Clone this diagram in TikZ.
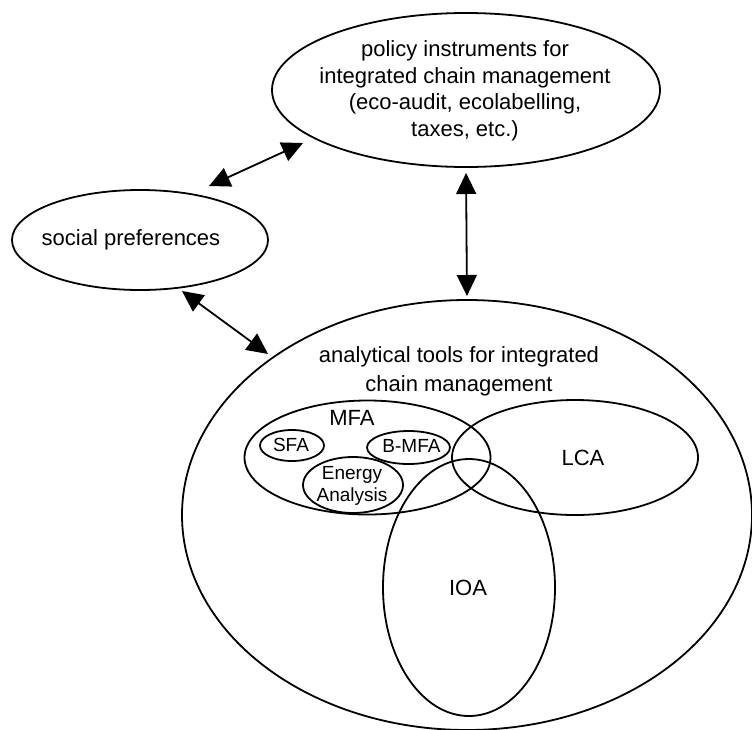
\documentclass[tikz,border=0pt]{standalone}
\usepackage{fontspec}
\setmainfont{Liberation Sans}
\usetikzlibrary{shapes.geometric,arrows.meta}
\begin{document}
\begin{tikzpicture}[x=1pt,y=-1pt,
  ell/.style={draw, ellipse, line width=1.8pt, inner sep=0pt, outer sep=0pt},
  lbl/.style={inner sep=0pt, font=\fontsize{22}{26.5}\selectfont, align=center},
  lbltwo/.style={inner sep=0pt, font=\fontsize{22}{29}\selectfont, align=center},
  small/.style={inner sep=0pt, font=\fontsize{19}{22}\selectfont, align=center},
  biarrow/.style={{Triangle[length=21pt,width=20pt]}-{Triangle[length=21pt,width=20pt]}, line width=1.8pt}
]
\useasboundingbox (0,0) rectangle (752,729);
\begin{scope}
\clip (0,0) rectangle (752,729);
\node[ell, minimum width=570pt, minimum height=430pt] (big) at (467,515) {};
\end{scope}
% top ellipse
\node[ell, minimum width=388pt, minimum height=154pt] (top) at (466,90) {};
\node[lbl] (toptext) at (465,91) {policy instruments for\\integrated chain management\\(eco-audit, ecolabelling,\\taxes, etc.)};
% social preferences
\node[ell, minimum width=256pt, minimum height=100pt] (soc) at (140,240) {};
\node[lbl, anchor=base] (soctext) at (131,245) {social preferences};
% analytical tools text
\node[lbltwo] (bigtext) at (459,371) {analytical tools for integrated\\chain management};
% MFA
\node[ell, minimum width=246pt, minimum height=114pt] (mfa) at (367.5,457.5) {};
\node[lbl, anchor=base] (mfatext) at (352,425) {MFA};
\node[ell, minimum width=64pt, minimum height=31pt] (sfa) at (292,445.5) {};
\node[small, anchor=base] (sfatext) at (291,451) {SFA};
\node[ell, minimum width=83pt, minimum height=33pt] (bmfa) at (408.5,447.5) {};
\node[small, anchor=base] (bmfatext) at (411.5,452.7) {B-MFA};
\node[ell, minimum width=100pt, minimum height=56pt] (ea) at (353,485) {};
\node[small] (eatext) at (352,486) {Energy\\Analysis};
% LCA
\node[ell, minimum width=246pt, minimum height=115pt] (lca) at (575,457.5) {};
\node[lbl, anchor=base] (lcatext) at (583,465) {LCA};
% IOA
\node[ell, minimum width=172pt, minimum height=257pt] (ioa) at (469,587.5) {};
\node[lbl, anchor=base] (ioatext) at (468,595) {IOA};
% arrows
\coordinate (a1s) at (209,186);
\coordinate (a1e) at (303,143);
\coordinate (a3s) at (182,291);
\coordinate (a3e) at (268,354);
\draw[biarrow] (a1s) -- (a1e);
\draw[biarrow, shorten <=6pt, shorten >=4pt] (top.south) -- (big.north);
\draw[biarrow] (a3s) -- (a3e);
\end{tikzpicture}
\end{document}
